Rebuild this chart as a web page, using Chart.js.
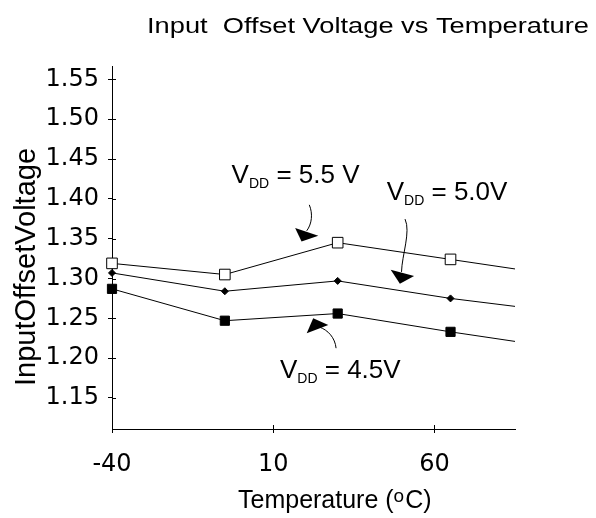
<!DOCTYPE html>
<html>
<head>
<meta charset="utf-8">
<script src="https://cdn.jsdelivr.net/npm/chart.js@4.4.1/dist/chart.umd.min.js"></script>
<style>
  html, body { margin: 0; padding: 0; background: #fff; }
  canvas { display: block; }
</style>
</head>
<body>
<canvas id="chart" width="596" height="518"></canvas>
<script>
// temperatures (deg C); last point only carries the line to the axis end
const temps = [-40, -5, 30, 65, 85];
const vdd55 = [1.319, 1.305, 1.345, 1.324, 1.312];
const vdd50 = [1.307, 1.284, 1.297, 1.275, 1.265];
const vdd45 = [1.287, 1.247, 1.256, 1.233, 1.221];

const xTicks = [-40, 10, 60];
const yTicks = [1.15, 1.20, 1.25, 1.30, 1.35, 1.40, 1.45, 1.50, 1.55];

// annotation labels, anchored in data units (left end, baseline)
const noteText = [" = 5.5 V", " = 5.0V", " = 4.5V"];
const noteX = [-2.9, 45.2, 12.1];
const noteY = [1.4197, 1.3987, 1.1747];

// curved arrows: bezier shaft + filled head, in data units
const arrowShafts = [
  [[21.2, 1.3925], [22.35, 1.3812], [22.0, 1.3687], [20.4, 1.3599]],
  [[50.9, 1.3746], [52.7, 1.3586], [49.95, 1.3297], [49.8, 1.3083]],
  [[29.5, 1.2125], [29.2, 1.2254], [27.0, 1.2355], [24.2, 1.2392]]
];
const arrowHeads = [
  [[16.8, 1.3633], [24.0, 1.3536], [18.8, 1.3464]],
  [[46.45, 1.3109], [53.7, 1.3033], [49.3, 1.2933]],
  [[20.4, 1.2313], [22.4, 1.2502], [27.1, 1.2417]]
];

const toPoints = (vals) => temps.map((t, i) => ({ x: t, y: vals[i] }));
const radii = (r) => temps.map((t, i) => (i < temps.length - 1 ? r : 0));

function stretched(ctx, str, x, y, font, sx) {
  ctx.save();
  ctx.font = font;
  ctx.translate(x, y);
  ctx.scale(sx, 1);
  ctx.fillText(str, 0, 0);
  const w = ctx.measureText(str).width * sx;
  ctx.restore();
  return w;
}

const overlay = {
  id: "overlay",
  afterDraw(chart) {
    const { ctx, chartArea } = chart;
    const xs = chart.scales.x;
    const ys = chart.scales.y;
    const px = (v) => xs.getPixelForValue(v);
    const py = (v) => ys.getPixelForValue(v);

    ctx.save();
    ctx.fillStyle = "#000";
    ctx.strokeStyle = "#000";
    ctx.lineWidth = 1;
    ctx.textAlign = "left";
    ctx.textBaseline = "alphabetic";

    // inner halves of the tick marks (ticks cross the axes)
    ctx.beginPath();
    xTicks.forEach((v) => {
      ctx.moveTo(Math.round(px(v)) + 0.5, chartArea.bottom);
      ctx.lineTo(Math.round(px(v)) + 0.5, chartArea.bottom - 4);
    });
    yTicks.forEach((v) => {
      ctx.moveTo(chartArea.left, Math.round(py(v)) + 0.5);
      ctx.lineTo(chartArea.left + 4, Math.round(py(v)) + 0.5);
    });
    ctx.stroke();

    // chart title
    stretched(ctx, "Input  Offset Voltage vs Temperature", 147, 32.7,
      "21.5px 'Liberation Sans', Arial, sans-serif", 1.268);

    // y axis title
    ctx.save();
    ctx.translate(35, 267);
    ctx.rotate(-Math.PI / 2);
    ctx.textAlign = "center";
    ctx.font = "29px 'Liberation Sans', Arial, sans-serif";
    ctx.fillText("InputOffsetVoltage", 0, 0);
    ctx.restore();

    // x axis title with superscript o
    let tx = 238;
    const tBase = 508;
    ctx.font = "25px 'Liberation Sans', Arial, sans-serif";
    ctx.fillText("Temperature (", tx, tBase);
    tx += ctx.measureText("Temperature (").width;
    ctx.font = "19px 'Liberation Sans', Arial, sans-serif";
    ctx.fillText("o", tx, tBase - 6.5);
    tx += ctx.measureText("o").width + 1;
    ctx.font = "25px 'Liberation Sans', Arial, sans-serif";
    ctx.fillText("C)", tx, tBase);

    // V_DD labels
    noteText.forEach((rest, i) => {
      let x = px(noteX[i]);
      const y = py(noteY[i]);
      ctx.font = "26px 'Liberation Sans', Arial, sans-serif";
      ctx.fillText("V", x, y);
      x += ctx.measureText("V").width;
      ctx.font = "14px 'Liberation Sans', Arial, sans-serif";
      ctx.fillText("DD", x, y + 5);
      x += ctx.measureText("DD").width;
      ctx.font = "26px 'Liberation Sans', Arial, sans-serif";
      ctx.fillText(rest, x, y);
    });

    // arrows
    arrowShafts.forEach((s) => {
      ctx.beginPath();
      ctx.moveTo(px(s[0][0]), py(s[0][1]));
      ctx.bezierCurveTo(px(s[1][0]), py(s[1][1]), px(s[2][0]), py(s[2][1]),
        px(s[3][0]), py(s[3][1]));
      ctx.stroke();
    });
    arrowHeads.forEach((h) => {
      ctx.beginPath();
      ctx.moveTo(px(h[0][0]), py(h[0][1]));
      ctx.lineTo(px(h[1][0]), py(h[1][1]));
      ctx.lineTo(px(h[2][0]), py(h[2][1]));
      ctx.closePath();
      ctx.fill();
    });

    ctx.restore();
  }
};

const tickFont = { family: "'DejaVu Sans', sans-serif", size: 24 };

new Chart(document.getElementById("chart"), {
  type: "line",
  data: {
    datasets: [
      {
        label: "VDD = 5.5 V",
        data: toPoints(vdd55),
        borderColor: "#000",
        borderWidth: 1,
        pointStyle: "rect",
        pointRadius: radii(7.5),
        pointBackgroundColor: "#fff",
        pointBorderColor: "#000",
        pointBorderWidth: 1,
        tension: 0,
        clip: false
      },
      {
        label: "VDD = 5.0V",
        data: toPoints(vdd50),
        borderColor: "#000",
        borderWidth: 1,
        pointStyle: "rectRot",
        pointRadius: radii(3.5),
        pointBackgroundColor: "#000",
        pointBorderColor: "#000",
        pointBorderWidth: 1,
        tension: 0,
        clip: false
      },
      {
        label: "VDD = 4.5V",
        data: toPoints(vdd45),
        borderColor: "#000",
        borderWidth: 1,
        pointStyle: "rect",
        pointRadius: radii(6.5),
        pointBackgroundColor: "#000",
        pointBorderColor: "#000",
        pointBorderWidth: 1,
        tension: 0,
        clip: false
      }
    ]
  },
  options: {
    responsive: false,
    animation: false,
    layout: {
      padding: { left: 0, right: 81, top: 66.7, bottom: 0 }
    },
    plugins: {
      legend: { display: false },
      tooltip: { enabled: false },
      title: { display: false }
    },
    scales: {
      x: {
        type: "linear",
        min: -40,
        max: 85,
        afterBuildTicks: (scale) => {
          scale.ticks = xTicks.map((v) => ({ value: v }));
        },
        afterFit: (scale) => {
          scale.height = 89;
        },
        grid: { drawOnChartArea: false, tickLength: 4, color: "#000" },
        border: { color: "#000", width: 1 },
        ticks: { color: "#000", font: tickFont, padding: 17, maxRotation: 0, autoSkip: false }
      },
      y: {
        type: "linear",
        min: 1.111,
        max: 1.566,
        afterBuildTicks: (scale) => {
          scale.ticks = yTicks.map((v) => ({ value: v }));
        },
        afterFit: (scale) => {
          scale.width = 112;
        },
        grid: { drawOnChartArea: false, tickLength: 4, color: "#000" },
        border: { color: "#000", width: 1 },
        ticks: {
          color: "#000",
          font: tickFont,
          padding: 9,
          autoSkip: false,
          callback: (v) => v.toFixed(2)
        }
      }
    }
  },
  plugins: [overlay]
});
</script>
</body>
</html>
